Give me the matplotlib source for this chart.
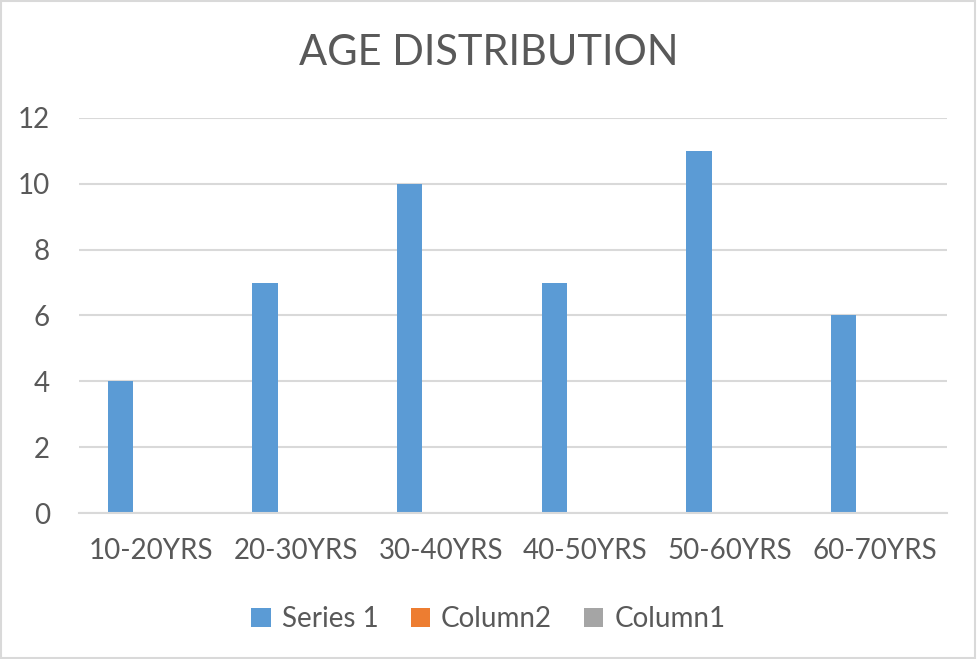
import numpy as np
import matplotlib.pyplot as plt
from matplotlib.patches import Rectangle

plt.rcParams['font.family'] = ['Lato', 'DejaVu Sans']

categories = ['10-20YRS', '20-30YRS', '30-40YRS', '40-50YRS', '50-60YRS', '60-70YRS']
series1 = [4, 7, 10, 7, 11, 6]
column2 = [0, 0, 0, 0, 0, 0]
column1 = [0, 0, 0, 0, 0, 0]
yticks = [0, 2, 4, 6, 8, 10, 12]

text_col = '#595959'
grid_col = '#d9d9d9'

fig = plt.figure(figsize=(9.77, 6.59), dpi=100)
ax = fig.add_axes([0.0809, 0.2215, 0.8884, 0.5995])

x = np.arange(len(categories))
w = 0.176
step = 0.214
ax.bar(x - step, series1, w, color='#5b9bd5', label='Series 1')
ax.bar(x, column2, w, color='#ed7d31', label='Column2')
ax.bar(x + step, column1, w, color='#a5a5a5', label='Column1')

ax.set_xlim(-0.5, len(categories) - 0.5)
ax.set_ylim(0, 12)
ax.set_yticks(yticks)
ax.set_xticks(x)
ax.set_xticklabels(categories)
ax.yaxis.grid(True, color=grid_col, linewidth=1.5)
ax.set_axisbelow(True)
for s in ['top', 'right', 'left']:
    ax.spines[s].set_visible(False)
ax.spines['bottom'].set_color(grid_col)
ax.spines['bottom'].set_linewidth(1.5)
ax.tick_params(axis='both', length=0, labelsize=20, labelcolor=text_col)
ax.tick_params(axis='y', pad=21)
ax.tick_params(axis='x', pad=18)

fig.suptitle('AGE DISTRIBUTION', y=0.948, fontsize=30, color=text_col)

leg = fig.legend(loc='center', bbox_to_anchor=(0.5, 0.06), ncol=3, frameon=False,
                 fontsize=20, handlelength=0.7, handleheight=0.7, handletextpad=0.4,
                 columnspacing=1.15)
for t in leg.get_texts():
    t.set_color(text_col)

# light frame around the whole chart
fig.patches.append(Rectangle((0.001, 0.001), 0.997, 0.997, transform=fig.transFigure,
                             fill=False, edgecolor=grid_col, linewidth=1.5))

fig.savefig('out.png', dpi=100)
